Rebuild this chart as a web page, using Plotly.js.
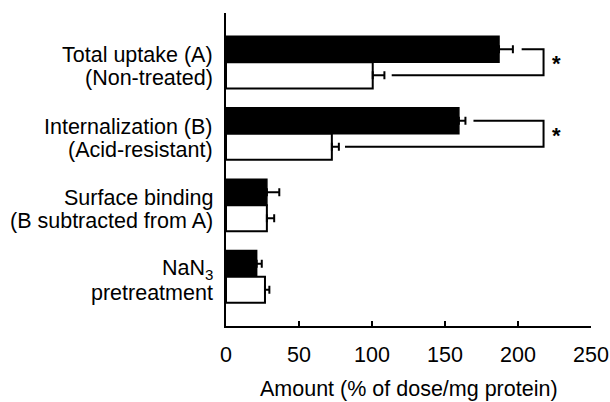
<!DOCTYPE html>
<html>
<head>
<meta charset="utf-8">
<script src="https://cdn.plot.ly/plotly-3.0.1.min.js"></script>
<style>html,body{margin:0;padding:0;background:#fff;}#chart{width:610px;height:402px;}</style>
</head>
<body>
<div id="chart"></div>
<script>
const categories = [
  "Total uptake (A)<br>(Non-treated)",
  "Internalization (B)<br>(Acid-resistant)",
  "Surface binding<br>(B subtracted from A)",
  "NaN<sub>3</sub><br>pretreatment"
];
const blackValues = [187, 159.5, 28, 21];
const blackErrors = [9.5, 4.5, 8.5, 3.5];
const whiteValues = [100.5, 72.5, 28, 26.7];
const whiteErrors = [8, 4.8, 5, 3];
const xTicks = [0, 50, 100, 150, 200, 250];
const xTitle = 'Amount (% of dose/mg protein)';
// significance brackets: [category index, x start top, x start bottom, x bracket end]
const brackets = [
  {cat: 0, xTop: 202.5, xBottom: 113.5, xEnd: 217.5},
  {cat: 1, xTop: 169.5, xBottom: 81.5, xEnd: 217.5}
];

const FONT = 'Liberation Sans, Arial, Helvetica, sans-serif';
const FS = 21.5;
const idx = categories.map((c, i) => i);
const off = 0.1825;

const traces = [
  {
    type: 'bar', orientation: 'h', x: blackValues, y: idx,
    marker: {color: '#000', line: {color: '#000', width: 1.5}},
    error_x: {type: 'data', array: blackErrors, arrayminus: blackErrors.map(() => 0), symmetric: false,
              color: '#000', thickness: 2, width: 4},
    hoverinfo: 'none'
  },
  {
    type: 'bar', orientation: 'h', x: whiteValues, y: idx,
    marker: {color: '#fff', line: {color: '#000', width: 2}},
    error_x: {type: 'data', array: whiteErrors, arrayminus: whiteErrors.map(() => 0), symmetric: false,
              color: '#000', thickness: 2, width: 4},
    hoverinfo: 'none'
  }
];

const shapes = [];
const annotations = [];
brackets.forEach(b => {
  const yT = b.cat - off, yB = b.cat + off;
  shapes.push({
    type: 'path', xref: 'x', yref: 'y',
    path: `M ${b.xTop} ${yT} L ${b.xEnd} ${yT} L ${b.xEnd} ${yB} L ${b.xBottom} ${yB}`,
    line: {color: '#000', width: 2}
  });
  annotations.push({
    xref: 'x', yref: 'y', x: b.xEnd + 9, y: b.cat + 0.02, text: '<b>*</b>', showarrow: false,
    xanchor: 'center', yanchor: 'middle', font: {size: 22, color: '#000', family: FONT}
  });
});

// category labels, one annotation per line for tight line spacing
categories.forEach((c, i) => {
  const lines = c.split('<br>');
  const shifts = [7, -16];
  lines.forEach((ln, k) => {
    annotations.push({
      xref: 'paper', yref: 'y', x: 0, y: i, xanchor: 'right', yanchor: 'middle',
      xshift: -11, yshift: shifts[k],
      text: ln, showarrow: false, align: 'right',
      font: {size: FS, color: '#000', family: FONT}
    });
  });
});

// x-axis title
annotations.push({
  xref: 'paper', yref: 'paper', x: 0.5, y: 0, xanchor: 'center', yanchor: 'middle',
  yshift: -63, text: xTitle, showarrow: false,
  font: {size: FS, color: '#000', family: FONT}
});

const layout = {
  width: 610, height: 402,
  margin: {l: 226, r: 19, t: 13, b: 76},
  paper_bgcolor: '#fff', plot_bgcolor: '#fff',
  showlegend: false,
  barmode: 'group', bargap: 0.27, bargroupgap: 0,
  font: {family: FONT, color: '#000', size: FS},
  xaxis: {
    range: [0, 250], tickvals: xTicks, ticktext: xTicks.map(String),
    showgrid: false, zeroline: false, showline: true, linecolor: '#000', linewidth: 2,
    ticks: 'inside', ticklen: 5, tickwidth: 2, tickcolor: '#000',
    tickfont: {size: FS}, ticklabelstandoff: 8
  },
  yaxis: {
    range: [3.69, -0.69], tickvals: idx, showticklabels: false,
    showgrid: false, zeroline: false, showline: true, linecolor: '#000', linewidth: 2,
    ticks: ''
  },
  shapes: shapes,
  annotations: annotations
};

Plotly.newPlot('chart', traces, layout, {displayModeBar: false, staticPlot: true});
</script>
</body>
</html>
